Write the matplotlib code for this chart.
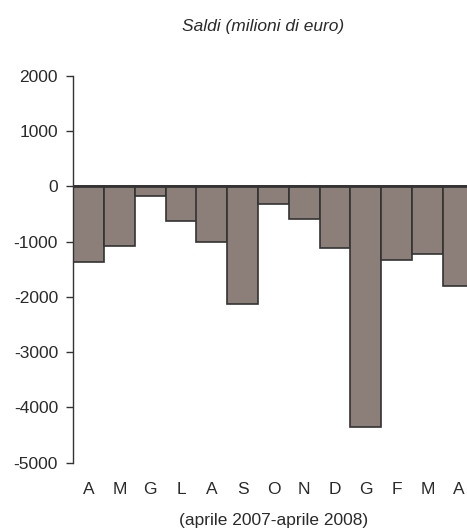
import matplotlib
matplotlib.use('Agg')
import matplotlib.pyplot as plt

months = ['A', 'M', 'G', 'L', 'A', 'S', 'O', 'N', 'D', 'G', 'F', 'M', 'A']
saldi = [-1370, -1080, -180, -620, -1010, -2130, -325, -580, -1120, -4360, -1330, -1230, -1805]
yticks = [2000, 1000, 0, -1000, -2000, -3000, -4000, -5000]

plt.rcParams['font.family'] = ['Liberation Sans', 'DejaVu Sans']

W, H = 467, 529
fig = plt.figure(figsize=(W / 100, H / 100), dpi=100)
ax = fig.add_axes([73.3 / W, (H - 462.7) / H, (W - 73.3) / W, (462.7 - 76) / H])

x = list(range(len(months)))
ax.bar(x, saldi, width=1.0, color='#8c7f7a', edgecolor='#333333', linewidth=1.2, zorder=2)
ax.axhline(0, color='#333333', linewidth=2, zorder=3)

ax.set_xlim(-0.5, -0.5 + (W - 73.3) / 30.8)
ax.set_ylim(-5000, 2000)
ax.set_yticks(yticks)
ax.set_yticklabels([str(v) for v in yticks], fontsize=12.5, color='#2a2a2a')
ax.set_xticks(x)
ax.set_xticklabels(months, fontsize=12.5, color='#2a2a2a')
ax.tick_params(axis='x', length=0, pad=14)
ax.tick_params(axis='y', length=5, width=1, color='#333333', pad=6)

for s in ['top', 'right', 'bottom']:
    ax.spines[s].set_visible(False)
ax.spines['left'].set_color('#333333')
ax.spines['left'].set_linewidth(1)

fig.text(263 / W, 1 - 26 / H, 'Saldi (milioni di euro)', ha='center', va='center',
         fontsize=12.5, style='italic', color='#2a2a2a')
fig.text(274 / W, 1 - 521 / H, '(aprile 2007-aprile 2008)', ha='center', va='center',
         fontsize=12.5, color='#2a2a2a')

fig.savefig('out.png', dpi=100)
